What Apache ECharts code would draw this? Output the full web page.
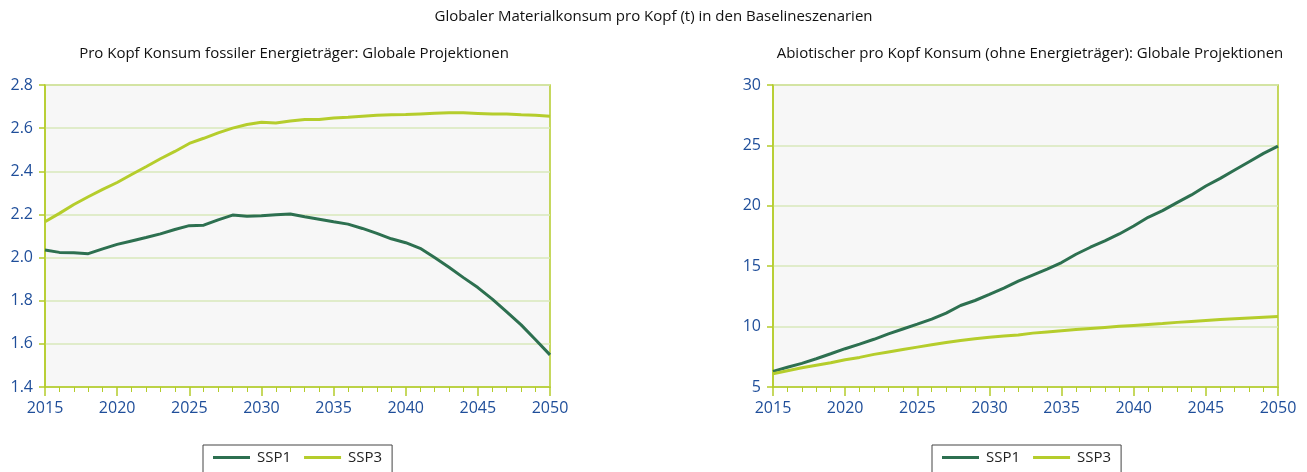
<!DOCTYPE html>
<html>
<head>
<meta charset="utf-8">
<script src="https://cdn.jsdelivr.net/npm/echarts@6.0.0/dist/echarts.min.js"></script>
<style>
html,body{margin:0;padding:0;background:#fff;}
#chart{width:1307px;height:472px;}
</style>
</head>
<body>
<div id="chart"></div>
<script>
const years = [2015,2016,2017,2018,2019,2020,2021,2022,2023,2024,2025,2026,2027,2028,2029,2030,2031,2032,2033,2034,2035,2036,2037,2038,2039,2040,2041,2042,2043,2044,2045,2046,2047,2048,2049,2050];
const seriesNames = ['SSP1','SSP3'];
const mainTitle = 'Globaler Materialkonsum pro Kopf (t) in den Baselineszenarien';
const leftTitle = 'Pro Kopf Konsum fossiler Energieträger: Globale Projektionen';
const rightTitle = 'Abiotischer pro Kopf Konsum (ohne Energieträger): Globale Projektionen';

const fossilSSP1 = [2.035,2.024,2.022,2.018,2.04,2.061,2.077,2.093,2.11,2.13,2.148,2.15,2.175,2.197,2.192,2.194,2.199,2.202,2.189,2.178,2.166,2.155,2.135,2.112,2.087,2.069,2.043,2.0,1.955,1.907,1.861,1.807,1.748,1.688,1.619,1.549];
const fossilSSP3 = [2.166,2.205,2.246,2.282,2.316,2.348,2.385,2.421,2.458,2.492,2.529,2.553,2.578,2.6,2.617,2.627,2.624,2.633,2.64,2.64,2.647,2.65,2.655,2.66,2.662,2.663,2.666,2.669,2.671,2.671,2.668,2.665,2.666,2.662,2.66,2.655];
const abioSSP1 = [6.29,6.63,6.96,7.34,7.75,8.17,8.55,8.95,9.4,9.8,10.2,10.62,11.12,11.75,12.16,12.66,13.18,13.76,14.26,14.75,15.3,15.99,16.57,17.09,17.67,18.33,19.05,19.6,20.26,20.9,21.64,22.27,22.96,23.65,24.34,24.94];
const abioSSP3 = [6.1,6.35,6.6,6.8,7.0,7.25,7.45,7.7,7.9,8.1,8.3,8.5,8.68,8.85,9.0,9.12,9.22,9.3,9.46,9.56,9.66,9.75,9.84,9.93,10.02,10.1,10.18,10.26,10.35,10.43,10.51,10.58,10.65,10.72,10.78,10.84];

const FONT = 'Open Sans';
const LABEL_COLOR = '#1f4e9a';
const AXIS_COLOR = '#b4cc2a';
const GRID_LINE = '#d9e8bb';
const C1 = '#2d7050';
const C3 = '#b5cd2c';

const pairs = arr => years.map((y, i) => [y, arr[i]]);

function xAxis(gi) {
  return {
    type: 'value', gridIndex: gi, min: 2015, max: 2050, interval: 5,
    axisLine: {show: true, lineStyle: {color: AXIS_COLOR, width: 1.5}},
    axisTick: {show: true, length: 9, lineStyle: {color: AXIS_COLOR, width: 1.5}},
    minorTick: {show: true, splitNumber: 5, length: 5, lineStyle: {color: AXIS_COLOR, width: 1}},
    splitLine: {show: false},
    axisLabel: {color: LABEL_COLOR, fontFamily: FONT, fontSize: 16, margin: 13, formatter: v => String(v)}
  };
}
function yAxis(gi, min, max, interval, dec) {
  return {
    type: 'value', gridIndex: gi, min: min, max: max, interval: interval,
    axisLine: {show: true, lineStyle: {color: AXIS_COLOR, width: 1.5}},
    axisTick: {show: true, length: 6, lineStyle: {color: AXIS_COLOR, width: 1.5}},
    splitLine: {show: true, lineStyle: {color: GRID_LINE, width: 1.5}},
    axisLabel: {color: LABEL_COLOR, fontFamily: FONT, fontSize: 16, margin: 12, formatter: v => v.toFixed(dec)}
  };
}
function line(name, gi, data, color) {
  return {
    type: 'line', name: name, xAxisIndex: gi, yAxisIndex: gi, data: pairs(data),
    symbol: 'none', lineStyle: {color: color, width: 3}, itemStyle: {color: color}
  };
}
function legend(leftPos) {
  return {
    data: seriesNames, left: leftPos, top: 445, orient: 'horizontal',
    icon: 'rect', itemWidth: 37, itemHeight: 3, itemGap: 13,
    textStyle: {fontFamily: FONT, fontSize: 15, color: '#222', padding: [0,0,0,2]},
    borderColor: '#444', borderWidth: 1, padding: [5, 10, 14, 10]
  };
}

const titleStyle = {fontFamily: FONT, fontSize: 15, fontWeight: 'normal', color: '#111'};
const chart = echarts.init(document.getElementById('chart'), null, {renderer: 'canvas'});
chart.setOption({
  animation: false,
  backgroundColor: '#ffffff',
  title: [
    {text: mainTitle, left: 'center', top: 4, textStyle: titleStyle},
    {text: leftTitle, left: 289, top: 41, textAlign: 'center', textStyle: titleStyle},
    {text: rightTitle, left: 1025, top: 41, textAlign: 'center', textStyle: titleStyle}
  ],
  legend: [legend(203), legend(932)],
  grid: [
    {left: 45, top: 85, width: 505, height: 302, show: true, backgroundColor: '#f7f7f7', borderColor: AXIS_COLOR, borderWidth: 1.5},
    {left: 773, top: 85, width: 505, height: 302, show: true, backgroundColor: '#f7f7f7', borderColor: AXIS_COLOR, borderWidth: 1.5}
  ],
  xAxis: [xAxis(0), xAxis(1)],
  yAxis: [yAxis(0, 1.4, 2.8, 0.2, 1), yAxis(1, 5, 30, 5, 0)],
  series: [
    line('SSP1', 0, fossilSSP1, C1),
    line('SSP3', 0, fossilSSP3, C3),
    line('SSP1', 1, abioSSP1, C1),
    line('SSP3', 1, abioSSP3, C3)
  ]
});
</script>
</body>
</html>
